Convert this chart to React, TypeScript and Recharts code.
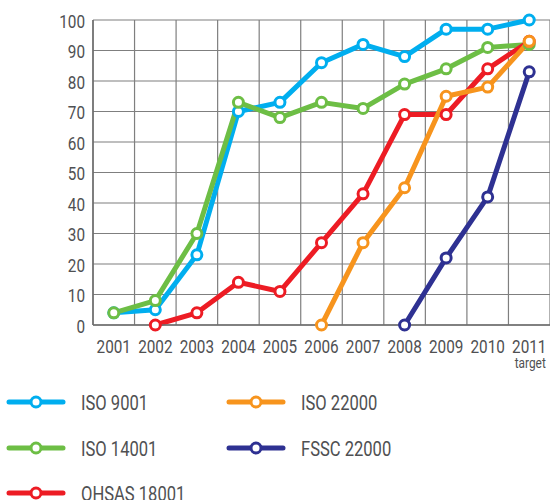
import React from 'react';
import { LineChart, Line, XAxis, YAxis, CartesianGrid, Legend } from 'recharts';

const years = [2001, 2002, 2003, 2004, 2005, 2006, 2007, 2008, 2009, 2010, 2011];
const yTicks = [0, 10, 20, 30, 40, 50, 60, 70, 80, 90, 100];
const iso9001 = [4, 5, 23, 70, 73, 86, 92, 88, 97, 97, 100];
const iso14001 = [4, 8, 30, 73, 68, 73, 71, 79, 84, 91, 92];
const ohsas18001 = [null, 0, 4, 14, 11, 27, 43, 69, 69, 84, 93];
const iso22000 = [null, null, null, null, null, 0, 27, 45, 75, 78, 93];
const fssc22000 = [null, null, null, null, null, null, null, 0, 22, 42, 83];
const targetYear = 2011;
const targetLabel = 'target';

const series = [
  { key: 'iso9001', name: 'ISO 9001', color: '#00AEEF', values: iso9001, col: 0, row: 0 },
  { key: 'iso14001', name: 'ISO 14001', color: '#6DBE45', values: iso14001, col: 0, row: 1 },
  { key: 'ohsas18001', name: 'OHSAS 18001', color: '#ED1C24', values: ohsas18001, col: 0, row: 2 },
  { key: 'iso22000', name: 'ISO 22000', color: '#F7941D', values: iso22000, col: 1, row: 0 },
  { key: 'fssc22000', name: 'FSSC 22000', color: '#2E3192', values: fssc22000, col: 1, row: 1 },
];

const data = years.map((year, i) => {
  const row: any = { year };
  series.forEach((s) => {
    row[s.key] = s.values[i];
  });
  return row;
});

const gridTicks = years.map((y) => y - 0.5);

const FONT = "'Roboto', 'Liberation Sans', sans-serif";
const TEXT = '#4f5052';

const NarrowText = ({ x, y, dy, anchor, size, sx = 0.85, children }: any) => (
  <text
    transform={`translate(${x},${y}) scale(${sx},1)`}
    x={0}
    y={0}
    dy={dy}
    textAnchor={anchor}
    fontFamily={FONT}
    fontSize={size}
    fontWeight={400}
    fill={TEXT}
  >
    {children}
  </text>
);

const XTick = (props: any) => {
  const { x, y, payload } = props;
  return (
    <g>
      <NarrowText x={x} y={y} dy={20} anchor="middle" size={18}>
        {payload.value}
      </NarrowText>
      {payload.value === targetYear && (
        <NarrowText x={x + 1} y={y} dy={35} anchor="middle" size={14}>
          {targetLabel}
        </NarrowText>
      )}
    </g>
  );
};

const YTick = (props: any) => {
  const { x, y, payload } = props;
  return (
    <NarrowText x={x} y={y} dy={7.5} anchor="end" size={18}>
      {payload.value}
    </NarrowText>
  );
};

const LegendContent = () => {
  const colX = [7, 227];
  const rowY = [17, 63, 108];
  return (
    <svg width={550} height={115} style={{ display: 'block' }}>
      {series.map((s) => {
        const x0 = colX[s.col];
        const cy = rowY[s.row];
        return (
          <g key={s.key}>
            <line x1={x0 + 2} x2={x0 + 56} y1={cy} y2={cy} stroke={s.color} strokeWidth={5} strokeLinecap="round" />
            <circle cx={x0 + 29} cy={cy} r={5} fill="#fff" stroke={s.color} strokeWidth={3} />
            <NarrowText x={x0 + 74} y={cy} dy={7.5} anchor="start" size={19.5}>
              {s.name}
            </NarrowText>
          </g>
        );
      })}
    </svg>
  );
};

export default function App() {
  return (
    <div style={{ position: 'absolute', left: 0, top: 0, width: 550, height: 500, background: '#fff' }}>
      <LineChart width={550} height={500} data={data} margin={{ top: 20, right: 0, left: 0, bottom: 0 }}>
        <CartesianGrid xAxisId="grid" stroke="#7f7f7f" strokeWidth={1.2} />
        <XAxis
          xAxisId="grid"
          dataKey="year"
          type="number"
          domain={[2000.5, 2011.5]}
          ticks={gridTicks}
          interval={0}
          hide
          height={0}
        />
        <XAxis
          dataKey="year"
          type="number"
          domain={[2000.5, 2011.5]}
          ticks={years}
          interval={0}
          height={175}
          tickLine={false}
          axisLine={{ stroke: '#6d6d6d', strokeWidth: 1.5 }}
          tick={<XTick />}
        />
        <YAxis
          domain={[0, 100]}
          ticks={yTicks}
          interval={0}
          width={93}
          tickLine={false}
          axisLine={{ stroke: '#6d6d6d', strokeWidth: 1.5 }}
          tick={<YTick />}
        />
        <Legend
          layout="vertical"
          align="center"
          verticalAlign="middle"
          wrapperStyle={{ position: 'absolute', top: 385, left: 0, width: 550 }}
          content={<LegendContent />}
        />
        {series.map((s) => (
          <Line
            key={s.key}
            dataKey={s.key}
            name={s.name}
            stroke={s.color}
            strokeWidth={5}
            strokeLinejoin="round"
            dot={{ r: 5, strokeWidth: 3, fill: '#fff', stroke: s.color }}
            activeDot={false}
            isAnimationActive={false}
          />
        ))}
      </LineChart>
    </div>
  );
}
